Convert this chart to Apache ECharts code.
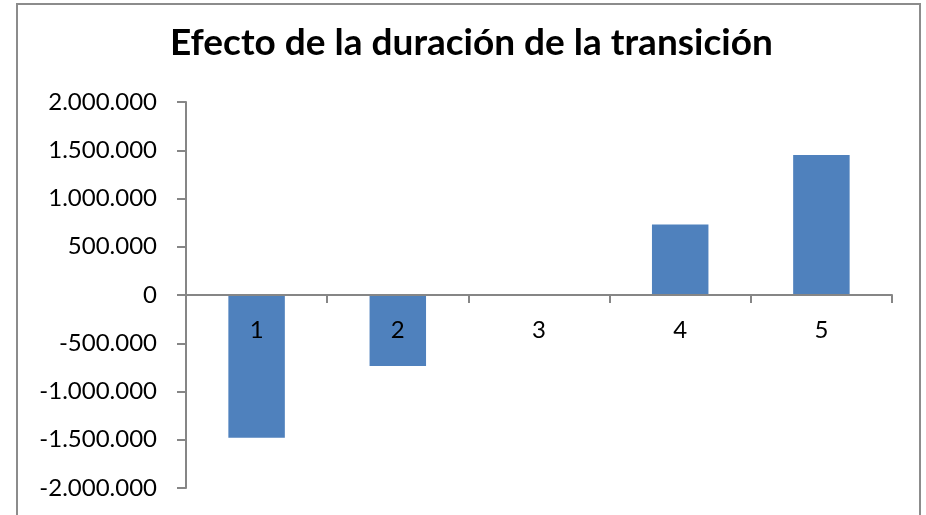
<!DOCTYPE html>
<html>
<head>
<meta charset="utf-8">
<script src="https://cdn.jsdelivr.net/npm/echarts@6/dist/echarts.min.js"></script>
<style>
html,body{margin:0;padding:0;background:#fff;}
#c{width:926px;height:515px;}
</style>
</head>
<body>
<div id="c"></div>
<script>
var titleText = 'Efecto de la duración de la transición';
var categories = ['1', '2', '3', '4', '5'];
var values = [-1480000, -735000, 0, 730000, 1450000];
var yMin = -2000000, yMax = 2000000, yInterval = 500000;

function fmt(v) {
  var neg = v < 0;
  var s = String(Math.abs(Math.round(v)));
  s = s.replace(/\B(?=(\d{3})+(?!\d))/g, '.');
  return (neg ? '-' : '') + s;
}

var chart = echarts.init(document.getElementById('c'), null, {renderer: 'canvas'});
chart.setOption({
  animation: false,
  backgroundColor: '#fff',
  graphic: [{
    type: 'rect',
    shape: {x: 17, y: 4, width: 903, height: 530},
    style: {fill: 'none', stroke: '#8c8c8c', lineWidth: 2},
    silent: true
  }],
  title: {
    text: titleText,
    left: 170,
    top: 25,
    padding: 0,
    textStyle: {fontFamily: 'Lato', fontWeight: 'bold', fontSize: 37, color: '#000'}
  },
  grid: {left: 186, right: 34, top: 102, bottom: 27, containLabel: false, outerBoundsMode: 'none'},
  xAxis: {
    type: 'category',
    data: categories,
    z: 10,
    position: 'bottom',
    offset: -193,
    axisLine: {onZero: false, lineStyle: {color: '#868686', width: 2}},
    axisTick: {show: true, length: 8, alignWithLabel: false, lineStyle: {color: '#868686', width: 2}},
    axisLabel: {fontFamily: 'Lato', fontSize: 24, color: '#000', margin: 23},
    splitLine: {show: false}
  },
  yAxis: {
    type: 'value',
    min: yMin, max: yMax, interval: yInterval,
    axisLine: {show: true, lineStyle: {color: '#868686', width: 2}},
    axisTick: {show: true, length: 9, lineStyle: {color: '#868686', width: 2}},
    axisLabel: {fontFamily: 'Lato', fontSize: 24, color: '#000', margin: 29, formatter: fmt},
    splitLine: {show: false}
  },
  series: [{
    type: 'bar',
    data: values,
    barWidth: '40%',
    itemStyle: {color: '#4F81BD'}
  }]
});
</script>
</body>
</html>
